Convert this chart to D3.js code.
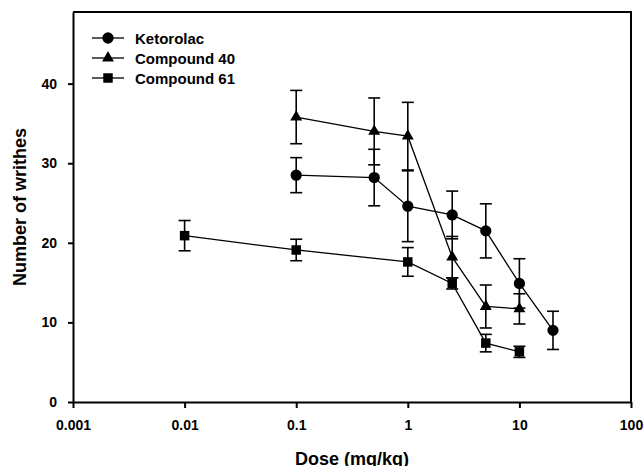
<!DOCTYPE html>
<html>
<head>
<meta charset="utf-8">
<script src="https://cdn.jsdelivr.net/npm/d3@7"></script>
<style>
  body { margin: 0; background: #fff; }
  text { font-family: "Liberation Sans", Arial, sans-serif; font-weight: bold; }
</style>
</head>
<body>
<script>
var width = 644, height = 466;
var margin = {top: 12, right: 13, bottom: 64, left: 73};

// data (mean and error per dose)
var seriesNames = ["Ketorolac", "Compound 40", "Compound 61"];
var ketDose = [0.1, 0.5, 1, 2.5, 5, 10, 20];
var ketMean = [28.5, 28.2, 24.6, 23.5, 21.5, 14.9, 9.0];
var ketErr  = [2.2, 3.55, 4.45, 3.0, 3.4, 3.1, 2.4];
var c40Dose = [0.1, 0.5, 1, 2.5, 5, 10];
var c40Mean = [35.8, 34.0, 33.4, 18.2, 12.0, 11.7];
var c40Err  = [3.35, 4.2, 4.25, 2.6, 2.7, 1.9];
var c61Dose = [0.01, 0.1, 1, 2.5, 5, 10];
var c61Mean = [20.9, 19.1, 17.6, 14.9, 7.4, 6.3];
var c61Err  = [1.9, 1.35, 1.8, 0.7, 1.1, 0.7];

var xTicks = [0.001, 0.01, 0.1, 1, 10, 100];
var xTickLabels = ["0.001", "0.01", "0.1", "1", "10", "100"];
var yTicks = [0, 10, 20, 30, 40];

var svg = d3.select("body").append("svg")
    .attr("width", width)
    .attr("height", height);

var x = d3.scaleLog().domain([0.001, 100]).range([margin.left, width - margin.right]);
var y = d3.scaleLinear().domain([0, 49]).range([height - margin.bottom, margin.top]);

function pack(dose, mean, err) {
    return dose.map(function (d, i) { return {dose: d, mean: mean[i], err: err[i]}; });
}
var series = [
    {name: seriesNames[0], shape: d3.symbolCircle, size: 100, values: pack(ketDose, ketMean, ketErr)},
    {name: seriesNames[1], shape: d3.symbolTriangle, size: 62, values: pack(c40Dose, c40Mean, c40Err)},
    {name: seriesNames[2], shape: d3.symbolSquare, size: 90, values: pack(c61Dose, c61Mean, c61Err)}
];

// frame (top and right)
svg.append("path")
    .attr("d", "M" + x.range()[0] + "," + y.range()[1] + "H" + x.range()[1] + "V" + y.range()[0])
    .attr("fill", "none").attr("stroke", "#000").attr("stroke-width", 2);

// axes
var xAxis = svg.append("g")
    .attr("transform", "translate(0," + y.range()[0] + ")")
    .call(d3.axisBottom(x).tickValues(xTicks).tickFormat(function (d, i) { return xTickLabels[i]; })
        .tickSize(6).tickSizeOuter(0).tickPadding(12));
var yAxis = svg.append("g")
    .attr("transform", "translate(" + x.range()[0] + ",0)")
    .call(d3.axisLeft(y).tickValues(yTicks).tickSize(5).tickSizeOuter(0).tickPadding(11));

[xAxis, yAxis].forEach(function (g) {
    g.select(".domain").attr("stroke-width", 2);
    g.selectAll(".tick line").attr("stroke-width", 2);
    g.selectAll(".tick text").attr("font-size", 14).attr("font-family", "Liberation Sans, Arial, sans-serif")
        .attr("font-weight", "bold").attr("fill", "#000");
});

// axis titles
svg.append("text")
    .attr("x", 352).attr("y", 465)
    .attr("text-anchor", "middle").attr("font-size", 18)
    .text("Dose (mg/kg)");
svg.append("text")
    .attr("transform", "translate(26,207) rotate(-90)")
    .attr("text-anchor", "middle").attr("font-size", 18)
    .text("Number of writhes");

var line = d3.line()
    .x(function (d) { return x(d.dose); })
    .y(function (d) { return y(d.mean); });

series.forEach(function (s) {
    var g = svg.append("g");
    g.append("path")
        .attr("d", line(s.values))
        .attr("fill", "none").attr("stroke", "#000").attr("stroke-width", 1.3);

    var eb = g.selectAll(".err").data(s.values).enter().append("g").attr("class", "err")
        .attr("stroke", "#000").attr("stroke-width", 1.6);
    eb.append("line")
        .attr("x1", function (d) { return x(d.dose); })
        .attr("x2", function (d) { return x(d.dose); })
        .attr("y1", function (d) { return y(d.mean - d.err); })
        .attr("y2", function (d) { return y(d.mean + d.err); });
    [1, -1].forEach(function (sign) {
        eb.append("line")
            .attr("x1", function (d) { return x(d.dose) - 6; })
            .attr("x2", function (d) { return x(d.dose) + 6; })
            .attr("y1", function (d) { return y(d.mean + sign * d.err); })
            .attr("y2", function (d) { return y(d.mean + sign * d.err); });
    });

    g.selectAll(".pt").data(s.values).enter().append("path")
        .attr("class", "pt")
        .attr("d", d3.symbol().type(s.shape).size(s.size))
        .attr("transform", function (d) { return "translate(" + x(d.dose) + "," + y(d.mean) + ")"; })
        .attr("fill", "#000");
});

// legend
var legend = svg.append("g");
series.forEach(function (s, i) {
    var ly = 38 + i * 20;
    legend.append("line")
        .attr("x1", 92).attr("x2", 124).attr("y1", ly).attr("y2", ly)
        .attr("stroke", "#000").attr("stroke-width", 1.3);
    legend.append("path")
        .attr("d", d3.symbol().type(s.shape).size(s.size))
        .attr("transform", "translate(108," + ly + ")");
    legend.append("text")
        .attr("x", 135).attr("y", ly + 5.5)
        .attr("font-size", 15)
        .text(s.name);
});
</script>
</body>
</html>
